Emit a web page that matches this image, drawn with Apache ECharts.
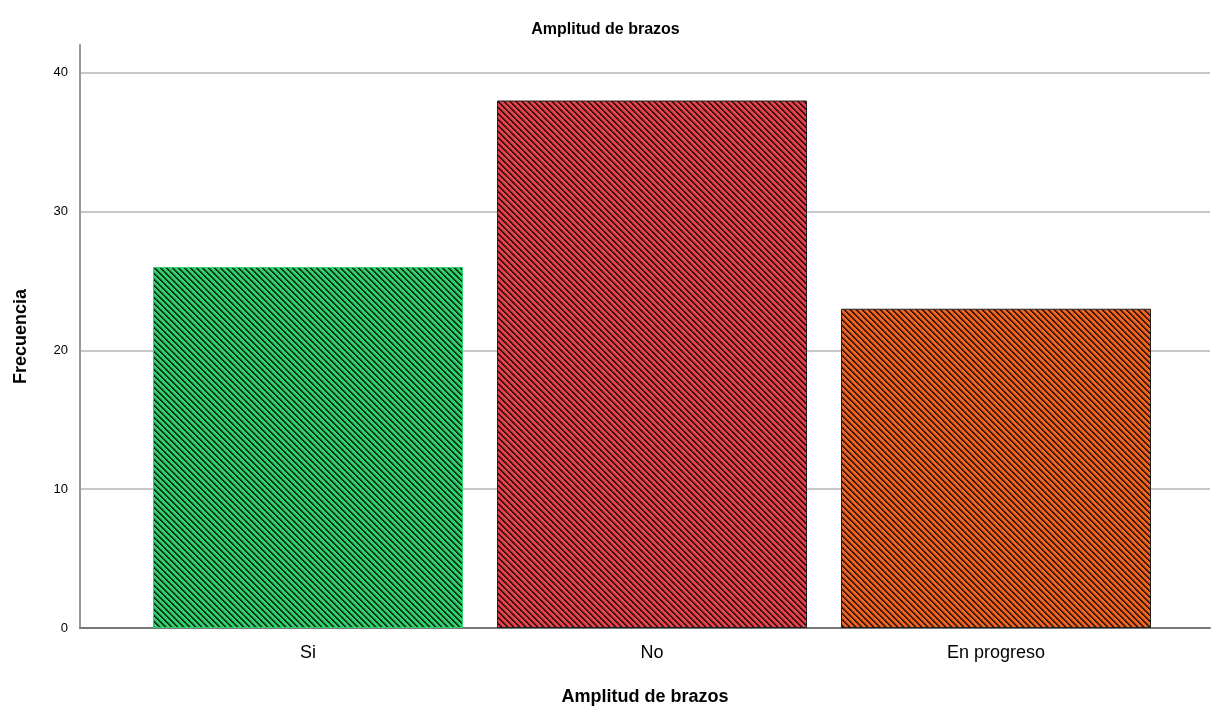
<!DOCTYPE html>
<html>
<head>
<meta charset="utf-8">
<script src="https://cdn.jsdelivr.net/npm/echarts@6/dist/echarts.min.js"></script>
<style>
  html, body { margin: 0; padding: 0; background: #fff; }
  #chart { width: 1211px; height: 709px; }
</style>
</head>
<body>
<div id="chart"></div>
<script>
// datos
const categorias = ['Si', 'No', 'En progreso'];
const frecuencias = [26, 38, 23];
const colores = ['#2ed16c', '#e8424a', '#f06420'];
const bordes = ['#2ed16c', '#222222', '#222222'];

// relleno rayado tipo SPSS
function rayado(base) {
  const n = 6;
  const c = document.createElement('canvas');
  c.width = n;
  c.height = n;
  const ctx = c.getContext('2d');
  ctx.fillStyle = base;
  ctx.fillRect(0, 0, n, n);
  const alfa = [0.85, 0.7, 0.25];
  for (let y = 0; y < n; y++) {
    for (let x = 0; x < n; x++) {
      const d = ((x - y) % n + n) % n;
      if (d < alfa.length) {
        ctx.fillStyle = 'rgba(0,0,0,' + alfa[d] + ')';
        ctx.fillRect(x, y, 1, 1);
      }
    }
  }
  return { image: c, repeat: 'repeat' };
}

const chart = echarts.init(document.getElementById('chart'));
chart.setOption({
  animation: false,
  title: {
    text: 'Amplitud de brazos',
    left: 'center',
    top: 17,
    textStyle: { fontFamily: 'Arial, Liberation Sans', fontSize: 16, fontWeight: 'bold', color: '#000' },
  },
  grid: [
    { left: 80, right: 1, top: 45, bottom: 81, outerBoundsMode: 'none' },
    { left: 136, right: 43, top: 45, bottom: 81, outerBoundsMode: 'none' },
  ],
  xAxis: [
    {
      gridIndex: 0,
      type: 'value',
      min: 0,
      max: 1,
      axisLine: { show: true, lineStyle: { color: '#777', width: 2 } },
      axisTick: { show: false },
      axisLabel: { show: false },
      splitLine: { show: false },
      name: 'Amplitud de brazos',
      nameLocation: 'middle',
      nameGap: 60,
      nameTextStyle: { fontFamily: 'Arial, Liberation Sans', fontSize: 18, fontWeight: 'bold', color: '#000' },
    },
    {
      gridIndex: 1,
      type: 'category',
      data: categorias,
      axisLine: { show: false },
      axisTick: { show: false },
      axisLabel: { fontFamily: 'Arial, Liberation Sans', fontSize: 18, color: '#000', margin: 16 },
    },
  ],
  yAxis: [
    {
      gridIndex: 0,
      type: 'value',
      min: 0,
      max: 42,
      interval: 10,
      axisLine: { show: true, lineStyle: { color: '#999', width: 2 } },
      axisTick: { show: false },
      axisLabel: { showMaxLabel: false, fontFamily: 'Arial, Liberation Sans', fontSize: 13, color: '#000', margin: 12 },
      splitLine: { show: true, showMaxLine: false, showMinLine: false, lineStyle: { color: '#c8c8c8', width: 2 } },
      name: 'Frecuencia',
      nameLocation: 'middle',
      nameGap: 50,
      nameTextStyle: { fontFamily: 'Arial, Liberation Sans', fontSize: 18, fontWeight: 'bold', color: '#000' },
    },
    {
      gridIndex: 1,
      type: 'value',
      min: 0,
      max: 42,
      show: false,
    },
  ],
  series: [
    {
      type: 'bar',
      xAxisIndex: 1,
      yAxisIndex: 1,
      barWidth: 310,
      data: frecuencias.map((v, i) => ({
        value: v,
        itemStyle: { color: rayado(colores[i]), borderColor: bordes[i], borderWidth: 1 },
      })),
    },
  ],
});
</script>
</body>
</html>
